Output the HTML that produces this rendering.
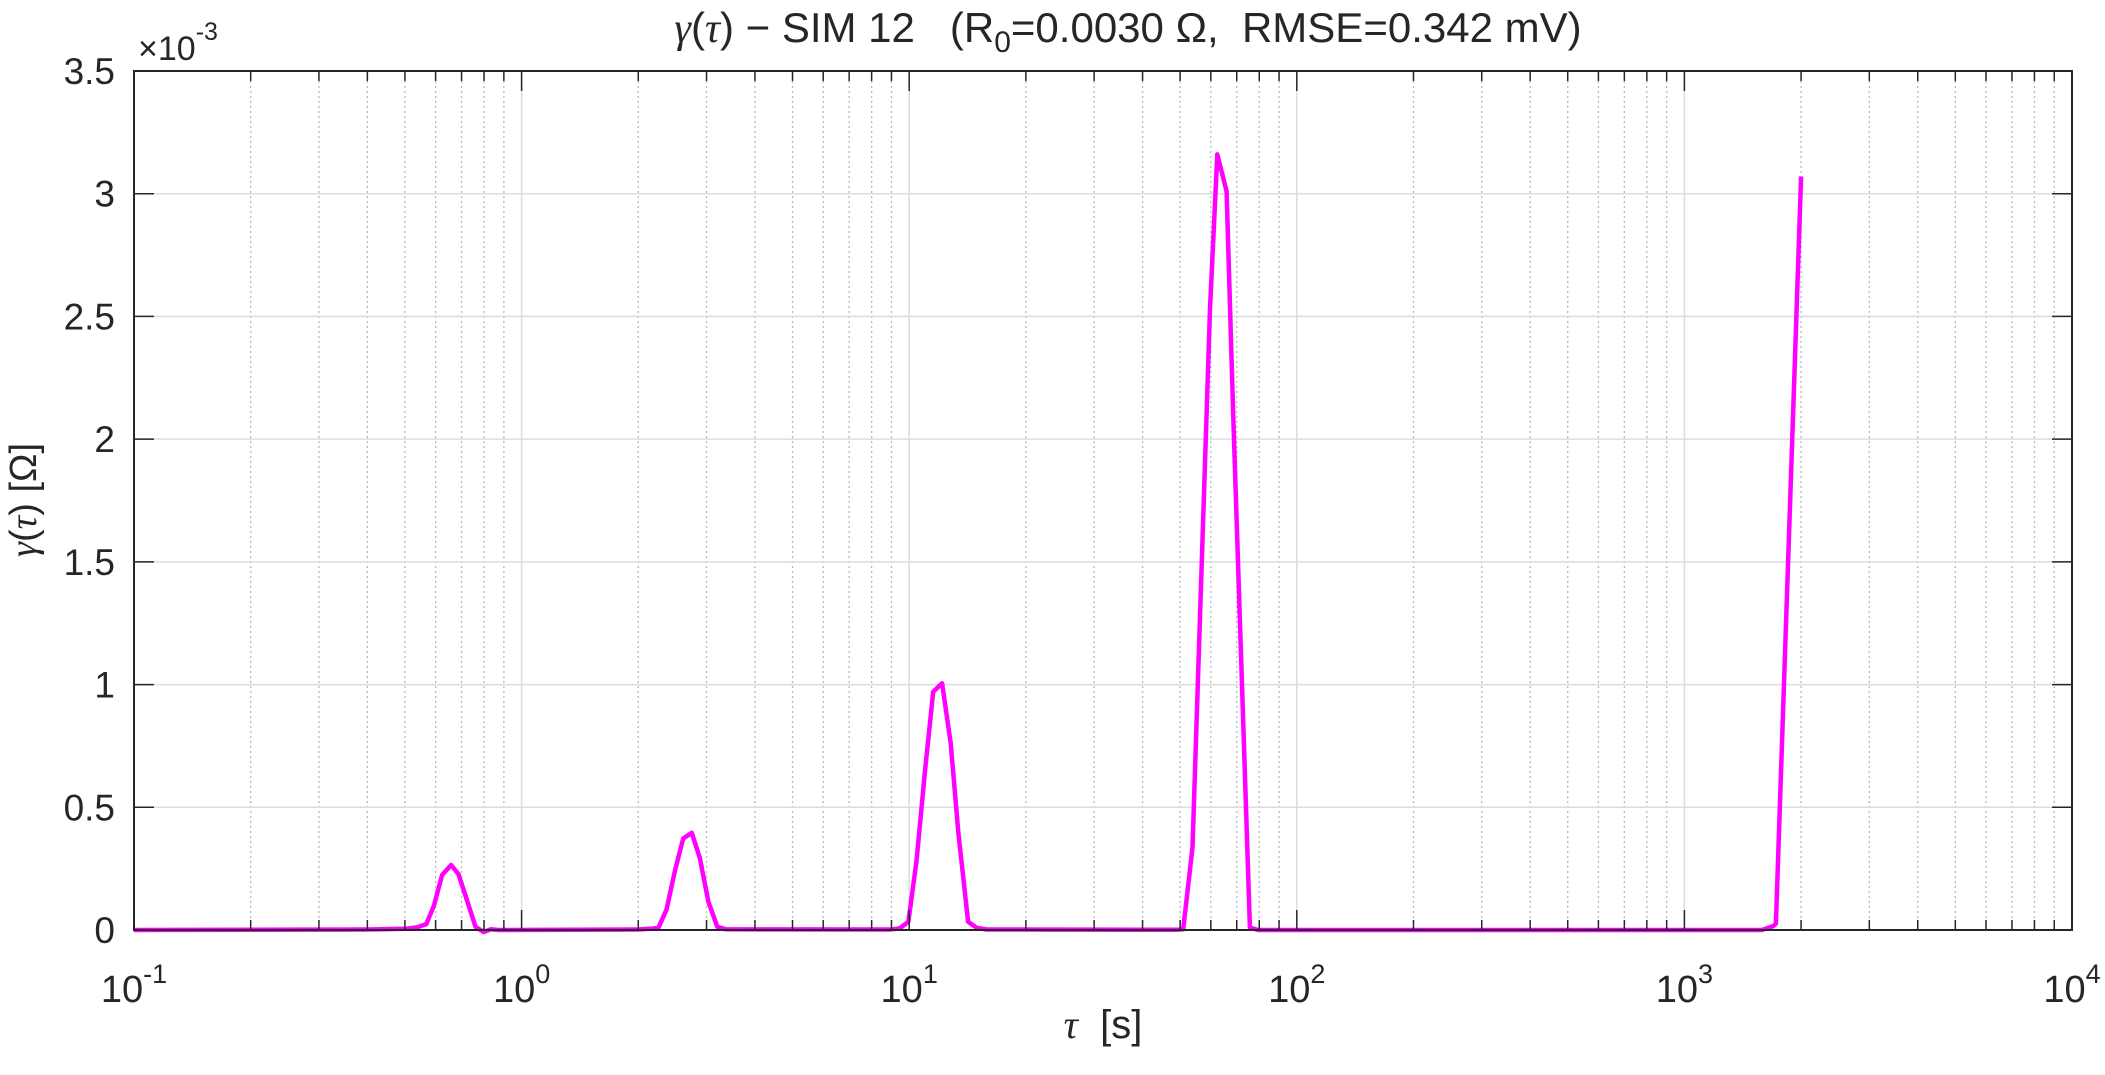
<!DOCTYPE html>
<html><head><meta charset="utf-8"><style>
html,body{margin:0;padding:0;background:#fff;}
svg{display:block;font-family:"Liberation Sans",sans-serif;}
text{white-space:pre;}
</style></head><body>
<svg id="chart" width="2105" height="1075" viewBox="0 0 2105 1075" xmlns="http://www.w3.org/2000/svg" xml:space="preserve">
<rect width="2105" height="1075" fill="#fff"/>
<g id="grid"></g>
<g id="series"></g>
<g id="axes"></g>
<text x="1128" y="42" font-size="42" text-anchor="middle" fill="#262626"><tspan font-family="Liberation Serif" font-style="italic">γ</tspan>(<tspan font-family="Liberation Serif" font-style="italic">τ</tspan>) − SIM 12   (R<tspan font-size="30" dy="10">0</tspan><tspan dy="-10">=0.0030 Ω,  RMSE=0.342 mV)</tspan></text>
<text x="1103" y="1038" font-size="40" text-anchor="middle" fill="#262626"><tspan font-family="Liberation Serif" font-style="italic">τ</tspan>  [s]</text>
<text transform="translate(36,500) rotate(-90)" font-size="38" text-anchor="middle" fill="#262626"><tspan font-family="Liberation Serif" font-style="italic">γ</tspan>(<tspan font-family="Liberation Serif" font-style="italic">τ</tspan>) [Ω]</text>
<text x="138" y="60" font-size="34" fill="#262626">×10<tspan font-size="25" dy="-20">-3</tspan></text>
</svg>
<script>
const logTau = [-1,-0.4,-0.3,-0.269,-0.246,-0.226,-0.205,-0.182,-0.163,-0.142,-0.119,-0.098,-0.079,-0.06,0.3,0.333,0.353,0.374,0.396,0.417,0.439,0.460,0.482,0.505,0.527,0.95,0.976,0.998,1.019,1.041,1.062,1.085,1.107,1.127,1.152,1.174,1.2,1.69,1.707,1.731,1.776,1.795,1.819,1.836,1.879,1.90,3.2,3.229,3.236,3.301];
const gammaVals = [0,0.002,0.005,0.011,0.024,0.10,0.224,0.265,0.228,0.126,0.013,-0.008,0.003,0,0.002,0.005,0.009,0.084,0.244,0.373,0.396,0.292,0.115,0.013,0.003,0.002,0.007,0.034,0.285,0.652,0.971,1.005,0.761,0.394,0.034,0.009,0.002,0.001,0.003,0.336,2.53,3.16,3.01,2.1,0.01,0.0,0.0,0.016,0.026,3.07];
const yTicks = [0,0.5,1,1.5,2,2.5,3,3.5];
const yTickLabels = ["0","0.5","1","1.5","2","2.5","3","3.5"];
const xDecades = [-1,0,1,2,3,4];

const L=134,R=2072,T=71,B=930;
const NS="http://www.w3.org/2000/svg";
function xs(lt){return L+(lt-(-1))/5*(R-L);}
function ys(v){return B-v/3.5*(B-T);}
function mk(tag,attrs,parent){const e=document.createElementNS(NS,tag);for(const k in attrs)e.setAttribute(k,attrs[k]);parent.appendChild(e);return e;}
const grid=document.getElementById('grid'),axes=document.getElementById('axes'),series=document.getElementById('series');

for(let d=-1;d<4;d++){for(let k=2;k<=9;k++){const x=xs(d+Math.log10(k));
 const g=mk('line',{x1:x,x2:x,y1:T,y2:B,stroke:'#b8b8b8','stroke-width':1.3,'stroke-dasharray':'2 3'},grid);
 
 
 const t1=mk('line',{x1:x,x2:x,y1:B,y2:B-10,stroke:'#262626','stroke-width':1.5},axes);
 
 
 const t2=mk('line',{x1:x,x2:x,y1:T,y2:T+10,stroke:'#262626','stroke-width':1.5},axes);
 
 
}}
xDecades.forEach(d=>{const x=xs(d);
 const g=mk('line',{x1:x,x2:x,y1:T,y2:B,stroke:'#dcdcdc','stroke-width':1.5},grid);
 
 
 const t1=mk('line',{x1:x,x2:x,y1:B,y2:B-20,stroke:'#262626','stroke-width':1.5},axes);
 
 
 const t2=mk('line',{x1:x,x2:x,y1:T,y2:T+20,stroke:'#262626','stroke-width':1.5},axes);
 
 
 const tx=mk('text',{x:x,y:1002,'font-size':38,'text-anchor':'middle',fill:'#262626'},axes);
 
 
 tx.innerHTML='10<tspan font-size="27" dy="-19">'+d+'</tspan>';
});
yTicks.forEach((v,i)=>{const y=ys(v);
 const g=mk('line',{x1:L,x2:R,y1:y,y2:y,stroke:'#dcdcdc','stroke-width':1.5},grid);
 
 
 const t1=mk('line',{x1:L,x2:L+20,y1:y,y2:y,stroke:'#262626','stroke-width':1.5},axes);
 
 
 const t2=mk('line',{x1:R,x2:R-20,y1:y,y2:y,stroke:'#262626','stroke-width':1.5},axes);
 
 
 const tx=mk('text',{x:115,y:y+13,'font-size':37,'text-anchor':'end',fill:'#262626'},axes);
 
 
 tx.textContent=yTickLabels[i];
});
const box=mk('rect',{x:L,y:T,width:R-L,height:B-T,fill:'none',stroke:'#262626','stroke-width':2},axes);


const pts=logTau.map((lt,i)=>xs(lt).toFixed(1)+','+ys(gammaVals[i]).toFixed(1)).join(' ');
const line=mk('polyline',{points:pts,fill:'none',stroke:'#ff00ff','stroke-width':4.5,'stroke-linejoin':'round'},series);


</script>
</body></html>
